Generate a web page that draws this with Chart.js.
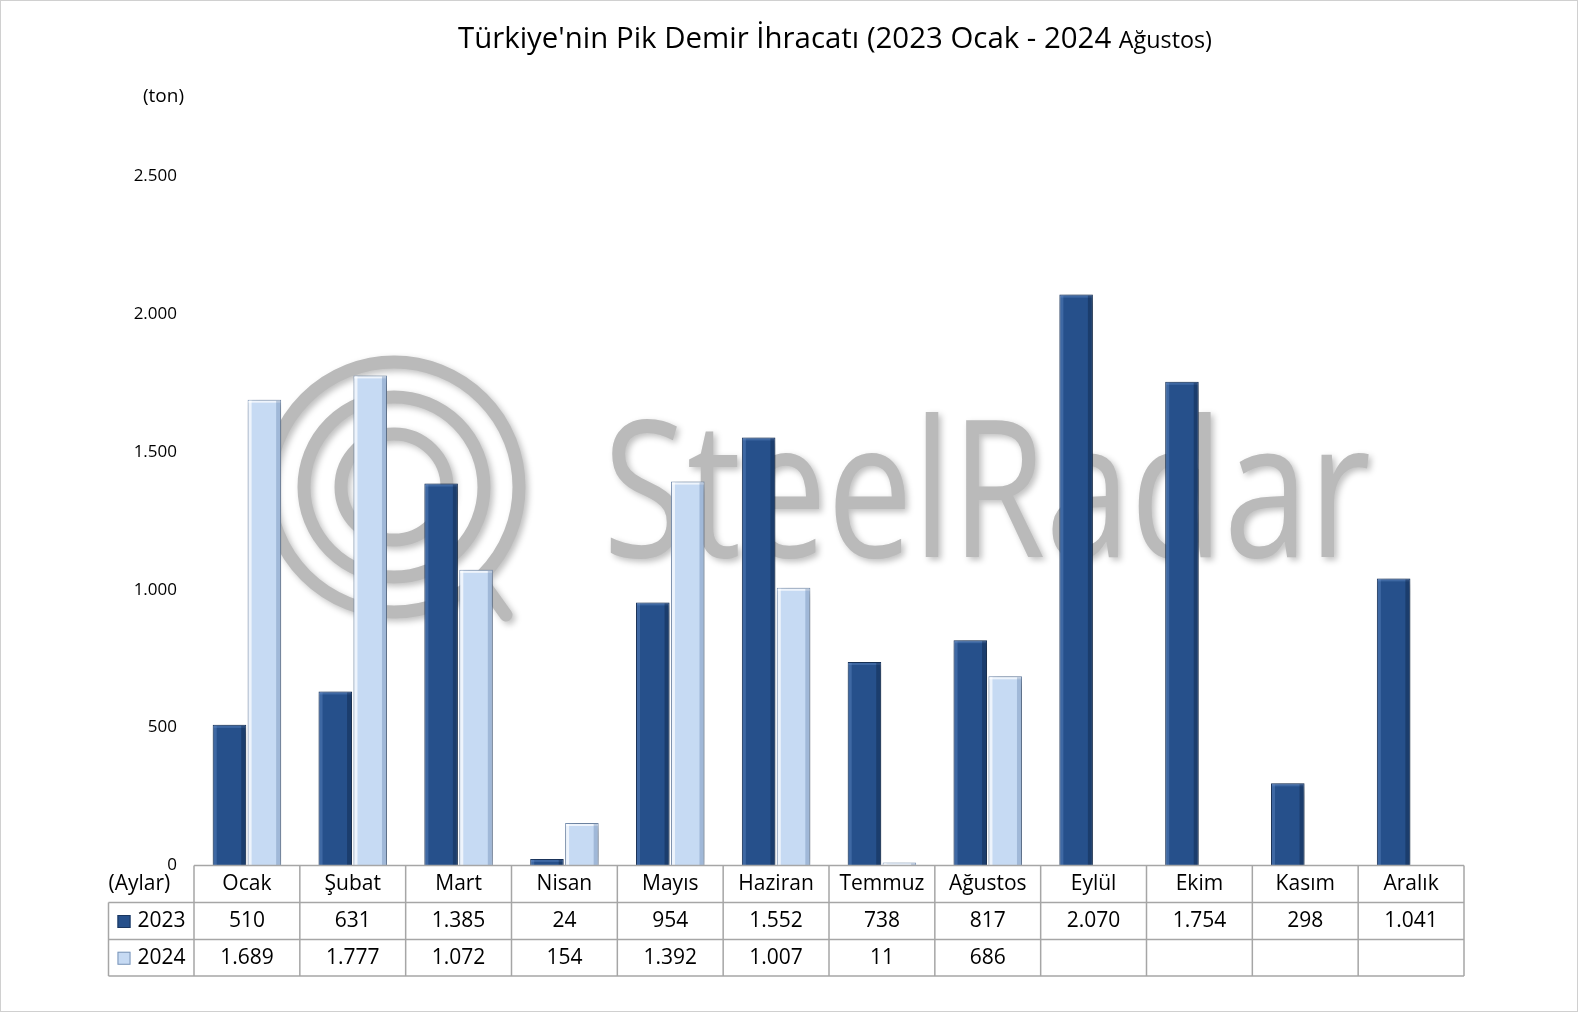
<!DOCTYPE html>
<html>
<head>
<meta charset="utf-8">
<script src="https://cdn.jsdelivr.net/npm/chart.js@4.4.1/dist/chart.umd.min.js"></script>
<style>
  html, body { margin: 0; padding: 0; background: #fff; }
  canvas { display: block; }
</style>
</head>
<body>
<canvas id="chart" width="1578" height="1012"></canvas>
<script>
// Months shown under the bars
const months = ['Ocak', 'Şubat', 'Mart', 'Nisan', 'Mayıs', 'Haziran', 'Temmuz', 'Ağustos', 'Eylül', 'Ekim', 'Kasım', 'Aralık'];

// Exports in tons
const exports2023 = [510, 631, 1385, 24, 954, 1552, 738, 817, 2070, 1754, 298, 1041];
const exports2024 = [1689, 1777, 1072, 154, 1392, 1007, 11, 686, null, null, null, null];

const seriesNames = ['2023', '2024'];
const yMax = 2500;
const yStep = 500;

const FONT = '"Open Sans", "Noto Sans", sans-serif';

// Turkish thousand separator: 1385 -> 1.385
const fmt = (v) => v == null ? '' : String(v).replace(/\B(?=(\d{3})+(?!\d))/g, '.');

// Grey SteelRadar mark behind the bars
const watermark = {
  id: 'watermark',
  beforeDatasetsDraw(chart) {
    const ctx = chart.ctx;
    ctx.save();
    ctx.shadowColor = 'rgba(0,0,0,0.25)';
    ctx.shadowBlur = 6;
    ctx.shadowOffsetX = 3;
    ctx.shadowOffsetY = 3;
    ctx.strokeStyle = '#bababa';
    ctx.lineWidth = 13;
    ctx.lineCap = 'round';
    const cx = 394, cy = 487;
    [53, 90, 125].forEach((r) => {
      ctx.beginPath();
      ctx.arc(cx, cy, r, 0, Math.PI * 2);
      ctx.stroke();
    });
    ctx.beginPath();
    ctx.moveTo(cx + 92, cy + 100);
    ctx.lineTo(cx + 112, cy + 128);
    ctx.stroke();

    ctx.fillStyle = '#bababa';
    ctx.font = '190px ' + FONT;
    ctx.textBaseline = 'alphabetic';
    ctx.textAlign = 'left';
    ctx.fillText('SteelRadar', 603, 557, 768);
    ctx.restore();
  }
};

// Soft drop shadow on the bars
const barShadow = {
  id: 'barShadow',
  beforeDatasetDraw(chart) {
    const ctx = chart.ctx;
    ctx.save();
    ctx.shadowColor = 'rgba(0,0,0,0.4)';
    ctx.shadowBlur = 12;
    ctx.shadowOffsetX = 3;
    ctx.shadowOffsetY = 2;
  },
  afterDatasetDraw(chart) {
    chart.ctx.restore();
  }
};

// Bevel highlights on each bar
const barBevel = {
  id: 'barBevel',
  afterDatasetsDraw(chart) {
    const ctx = chart.ctx;
    ctx.save();
    chart.data.datasets.forEach((ds, di) => {
      chart.getDatasetMeta(di).data.forEach((el, i) => {
        if (ds.data[i] == null) return;
        const left = el.x - el.width / 2;
        const top = Math.min(el.y, el.base);
        const h = Math.abs(el.base - el.y);
        if (h < 2) return;
        ctx.fillStyle = di === 0 ? 'rgba(110,150,210,0.35)' : 'rgba(255,255,255,0.7)';
        ctx.fillRect(left + 1, top + 1, 3, h - 1);
        ctx.fillRect(left + 1, top + 1, el.width - 2, 2);
        ctx.fillStyle = di === 0 ? 'rgba(10,25,55,0.35)' : 'rgba(90,120,165,0.35)';
        ctx.fillRect(left + el.width - 5, top + 1, 4, h - 1);
      });
    });
    ctx.restore();
  }
};

// Title, unit label, data table and frame
const decorations = {
  id: 'decorations',
  afterDraw(chart) {
    const { ctx, chartArea: a, scales: { x } } = chart;
    ctx.save();

    // title with the smaller "Ağustos)"
    const t1 = "Türkiye'nin Pik Demir İhracatı (2023 Ocak - 2024 ";
    const t2 = 'Ağustos)';
    ctx.font = '29px ' + FONT;
    const w1 = ctx.measureText(t1).width;
    ctx.font = '23px ' + FONT;
    const w2 = ctx.measureText(t2).width;
    const s = 754 / (w1 + w2);
    ctx.translate(458, 48);
    ctx.scale(s, 1);
    ctx.fillStyle = '#000';
    ctx.textAlign = 'left';
    ctx.textBaseline = 'alphabetic';
    ctx.font = '29px ' + FONT;
    ctx.fillText(t1, 0, 0);
    ctx.font = '23px ' + FONT;
    ctx.fillText(t2, w1, 0);
    ctx.setTransform(1, 0, 0, 1, 0, 0);

    ctx.font = '19px ' + FONT;
    ctx.textAlign = 'right';
    ctx.textBaseline = 'middle';
    ctx.fillText('(ton)', 184, 97);

    // data table
    const n = months.length;
    const colW = (a.right - a.left) / n;
    const rowY = [a.bottom, a.bottom + 37, a.bottom + 74, a.bottom + 110.5];
    const legendLeft = a.left - 85.5;
    ctx.strokeStyle = '#a6a6a6';
    ctx.lineWidth = 1.5;
    ctx.beginPath();
    ctx.moveTo(a.left, rowY[0]); ctx.lineTo(a.right, rowY[0]);
    for (let r = 1; r < 4; r++) {
      ctx.moveTo(legendLeft, rowY[r]); ctx.lineTo(a.right, rowY[r]);
    }
    ctx.moveTo(legendLeft, rowY[1]); ctx.lineTo(legendLeft, rowY[3]);
    for (let i = 0; i <= n; i++) {
      const xx = a.left + i * colW;
      ctx.moveTo(xx, rowY[0]); ctx.lineTo(xx, rowY[3]);
    }
    ctx.stroke();

    ctx.fillStyle = '#000';
    ctx.font = '21px ' + FONT;
    ctx.textAlign = 'center';
    ctx.textBaseline = 'middle';
    const rows = [exports2023, exports2024];
    months.forEach((m, i) => {
      const cx = x.getPixelForValue(i);
      ctx.fillText(m, cx, (rowY[0] + rowY[1]) / 2);
      rows.forEach((vals, r) => {
        ctx.fillText(fmt(vals[i]), cx, (rowY[r + 1] + rowY[r + 2]) / 2);
      });
    });

    ctx.textAlign = 'left';
    ctx.fillText('(Aylar)', legendLeft, (rowY[0] + rowY[1]) / 2);
    seriesNames.forEach((name, r) => {
      const cy = (rowY[r + 1] + rowY[r + 2]) / 2;
      const ds = chart.data.datasets[r];
      ctx.fillStyle = ds.backgroundColor;
      ctx.fillRect(legendLeft + 9, cy - 6, 13, 13);
      ctx.strokeStyle = ds.borderColor;
      ctx.lineWidth = 1;
      ctx.strokeRect(legendLeft + 9.5, cy - 5.5, 12, 12);
      ctx.fillStyle = '#000';
      ctx.fillText(name, legendLeft + 29, cy);
    });

    // outer frame
    ctx.strokeStyle = '#d0d0d0';
    ctx.lineWidth = 1;
    ctx.strokeRect(0.5, 0.5, chart.width - 1, chart.height - 1);
    ctx.restore();
  }
};

new Chart(document.getElementById('chart'), {
  type: 'bar',
  plugins: [watermark, barShadow, barBevel, decorations],
  data: {
    labels: months,
    datasets: [
      {
        label: seriesNames[0],
        data: exports2023,
        backgroundColor: '#26508b',
        borderColor: '#1a365f',
        borderWidth: 1,
      },
      {
        label: seriesNames[1],
        data: exports2024,
        backgroundColor: '#c6daf3',
        borderColor: '#7d96b8',
        borderWidth: 1,
      },
    ],
  },
  options: {
    responsive: false,
    animation: false,
    devicePixelRatio: 1,
    categoryPercentage: 0.66,
    barPercentage: 0.96,
    layout: { padding: { left: 0, right: 114, top: 176, bottom: 146.5 } },
    plugins: {
      legend: { display: false },
      tooltip: { enabled: false },
      title: { display: false },
    },
    scales: {
      x: { display: false, offset: true },
      y: {
        min: 0,
        max: yMax,
        grid: { display: false, drawTicks: false },
        border: { display: false },
        ticks: {
          stepSize: yStep,
          padding: 17,
          color: '#000',
          font: { family: FONT, size: 17 },
          callback: (v) => fmt(v),
        },
        afterFit(scale) { scale.width = 194; },
      },
    },
  },
});
</script>
</body>
</html>
